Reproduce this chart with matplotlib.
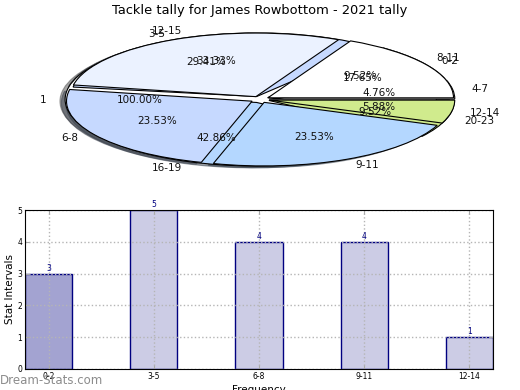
import matplotlib
matplotlib.use('Agg')
import matplotlib.pyplot as plt
import numpy as np

title = "Tackle tally for James Rowbottom - 2021 tally"

# three pies drawn over each other on the same axes (bottom -> top)
pie_a_labels = ["1"]
pie_a_values = [1]
pie_c_labels = ["4-7", "8-11", "12-15", "16-19", "20-23"]
pie_c_values = [1, 2, 7, 9, 2]
pie_b_labels = ["0-2", "3-5", "6-8", "9-11", "12-14"]
pie_b_values = [3, 5, 4, 4, 1]

bar_categories = ["0-2", "3-5", "6-8", "9-11", "12-14"]
bar_values = [3, 5, 4, 4, 1]

pie_colors = ['#FFFFFF', '#EBF2FF', '#C6D9FF', '#B4D7FF', '#D0EB8D']
bar_faces = ['#A3A3D1', '#CCCCE5', '#CCCCE5', '#CCCCE5', '#CCCCE5']

fig = plt.figure(figsize=(5.2, 3.9), dpi=100)

ax1 = fig.add_axes([28 / 520, (390 - 179) / 390, 464 / 520, 159 / 390])
for labels, vals in [(pie_a_labels, pie_a_values),
                     (pie_c_labels, pie_c_values),
                     (pie_b_labels, pie_b_values)]:
    ax1.pie(vals, labels=labels, colors=pie_colors[:len(vals)],
            explode=[0.05] * len(vals), shadow=True, autopct='%1.2f%%',
            startangle=0,
            wedgeprops=dict(edgecolor='black', linewidth=0.8),
            textprops=dict(fontsize=7.5, color='#111111'))
ax1.set_aspect('auto')
ax1.set_xlim(-1.25, 1.25)
ax1.set_ylim(-1.25, 1.25)
ax1.set_title(title, fontsize=9.4, pad=4)

ax2 = fig.add_axes([25 / 520, 21 / 390, 468 / 520, 159 / 390])
x = np.arange(len(bar_values))
ax2.bar(x, bar_values, width=0.45, color=bar_faces, edgecolor='#000080',
        linewidth=1.0)
for xi, v in zip(x, bar_values):
    ax2.text(xi, v + 0.03, str(v), ha='center', va='bottom', fontsize=5.5,
             color='#000080', clip_on=False)
ax2.set_xticks(x)
ax2.set_xticklabels(bar_categories)
ax2.set_yticks(range(0, 6))
ax2.set_xlim(-0.225, len(bar_values) - 1 + 0.225)
ax2.set_ylim(0, 5)
ax2.grid(True, linestyle=':', color='#b5b5b5', linewidth=1)
ax2.tick_params(direction='in', top=True, right=True, labelsize=5.5,
                length=3, pad=2, color='#aaaaaa')
ax2.set_ylabel("Stat Intervals", fontsize=7.5, labelpad=2)
ax2.set_xlabel("Frequency", fontsize=7.5, labelpad=3)

fig.text(0.0, (390 - 380) / 390, "Dream-Stats.com", fontsize=8.5,
         color='#8c8c8c', ha='left', va='center')

fig.savefig('out.png', dpi=100)
